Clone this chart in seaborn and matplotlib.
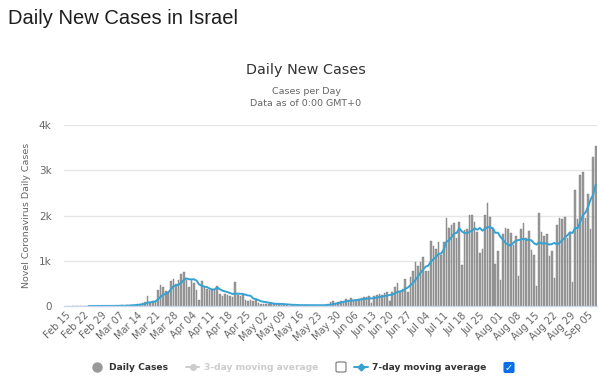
import numpy as np
import pandas as pd
import matplotlib
matplotlib.use("Agg")
import matplotlib.pyplot as plt
import seaborn as sns
from matplotlib.lines import Line2D
from matplotlib.patches import FancyBboxPatch

sns.set_style("white")
plt.rcParams['font.family'] = ['DejaVu Sans']

# daily new cases, Feb 15 - Sep 08 2020
feb_cases = [np.nan, np.nan, np.nan, 0, 0, 0, 1, 0, 0, 0, 0, 1, 0, 2, 3]
mar_cases = [2, 2, 3, 5, 2, 4, 4, 12, 8, 17, 22, 33, 29, 40,
             50, 70, 90, 230, 60, 100, 110, 361, 472, 420, 330, 310, 560, 597, 494, 582, 715]
apr_cases = [744, 582, 420, 580, 516, 346, 140, 545, 435, 383, 346, 360, 360, 442, 272,
             214, 272, 236, 214, 199, 523, 236, 214, 236, 125, 103, 140, 110, 140, 66]
may_cases = [52, 37, 52, 50, 60, 45, 40, 50, 25, 20, 20, 10, 25, 30, 20, 10,
             20, 15, 10, 25, 20, 15, 10, 20, 15, 25, 40, 80, 116, 60, 95]
jun_cases = [120, 110, 150, 130, 170, 100, 140, 160, 175, 200, 190, 230, 65, 210, 240,
             270, 250, 290, 300, 118, 302, 413, 500, 339, 376, 597, 317, 648, 781, 980]
jul_cases = [892, 965, 1076, 766, 774, 1444, 1326, 1253, 1422, 1127, 1407, 1938, 1717, 1790,
             1827, 1496, 1864, 906, 1680, 1702, 2004, 2004, 1864, 1643, 1179, 1253, 2004,
             2270, 1960, 1717, 928]
aug_cases = [1223, 582, 1584, 1732, 1702, 1606, 1347, 1548, 670, 1694, 1841, 1496, 1665,
             1245, 1120, 442, 2049, 1643, 1555, 1584, 1112, 1208, 612, 1790, 1952, 1923,
             1960, 1496, 1643, 538, 2564]
sep_cases = [1916, 2896, 2970, 1938, 2476, 1702, 3294, 3545]

tick_labels = ["Feb 15", "Feb 22", "Feb 29", "Mar 07", "Mar 14", "Mar 21", "Mar 28",
               "Apr 04", "Apr 11", "Apr 18", "Apr 25", "May 02", "May 09", "May 16",
               "May 23", "May 30", "Jun 06", "Jun 13", "Jun 20", "Jun 27", "Jul 04",
               "Jul 11", "Jul 18", "Jul 25", "Aug 01", "Aug 08", "Aug 15", "Aug 22",
               "Aug 29", "Sep 05"]
y_ticks = [0, 1000, 2000, 3000, 4000]
y_labels = ["0", "1k", "2k", "3k", "4k"]

cases = feb_cases + mar_cases + apr_cases + may_cases + jun_cases + jul_cases + aug_cases + sep_cases
df = pd.DataFrame({"day": np.arange(len(cases)), "cases": cases})
df["ma7"] = df["cases"].rolling(7).mean()

W, H = 600, 381
fig = plt.figure(figsize=(W / 100, H / 100), dpi=100)
ax = fig.add_axes([64 / W, 1 - 306 / H, 533 / W, 181 / H])

sns.barplot(data=df, x="day", y="cases", native_scale=True, width=0.62,
            color="#9b9b9b", edgecolor="#7d7d7d", linewidth=0.3, saturation=1,
            errorbar=None, ax=ax)
sns.lineplot(data=df, x="day", y="ma7", color="#35a2d3", linewidth=1.4, ax=ax)

ax.set_xlim(-0.5, len(cases) - 0.5)
ax.set_ylim(0, 4000)
ax.set_xticks(np.arange(len(tick_labels)) * 7)
ax.set_xticklabels(tick_labels)
ax.set_yticks(y_ticks)
ax.set_yticklabels(y_labels)
ax.tick_params(axis="x", length=0, pad=3, labelsize=7, labelcolor="#666666")
ax.tick_params(axis="y", length=0, pad=9, labelsize=7.5, labelcolor="#666666")
plt.setp(ax.get_xticklabels(), rotation=45, ha="right", va="top", rotation_mode="anchor")
ax.set_xlabel("")
ax.set_ylabel("")
ax.yaxis.grid(True, color="#e6e6e6", linewidth=1)
ax.set_axisbelow(True)
for s in ["top", "right", "left"]:
    ax.spines[s].set_visible(False)
ax.spines["bottom"].set_color("#ccd6eb")
ax.spines["bottom"].set_linewidth(1)

fig.text(27 / W, 1 - 215 / H, "Novel Coronavirus Daily Cases", rotation=90,
         ha="center", va="center", fontsize=6.8, color="#666666")

# titles
fig.text(8 / W, 1 - 19 / H, "Daily New Cases in Israel", family="Liberation Sans",
         fontsize=14.5, color="#1e1e1e", ha="left", va="center")
fig.text(306 / W, 1 - 70 / H, "Daily New Cases", fontsize=10.4, color="#333333",
         ha="center", va="center")
fig.text(306 / W, 1 - 91 / H, "Cases per Day", fontsize=6.8, color="#666666",
         ha="center", va="center")
fig.text(306 / W, 1 - 104 / H, "Data as of 0:00 GMT+0", fontsize=6.8, color="#666666",
         ha="center", va="center")

# legend
ly = 1 - 367 / H
tf = fig.transFigure
fig.add_artist(Line2D([97 / W], [ly], marker="o", markersize=6.5, color="#999999",
                      linestyle="none", transform=tf))
fig.text(109 / W, ly, "Daily Cases", fontsize=6.6, fontweight="bold", color="#333333",
         ha="left", va="center")
fig.add_artist(Line2D([186 / W, 199 / W], [ly, ly], marker="D", markevery=[0], markersize=0,
                      color="#cccccc", linewidth=1.4, transform=tf))
fig.add_artist(Line2D([192.5 / W], [ly], marker="o", markersize=4, color="#cccccc",
                      linestyle="none", transform=tf))
fig.text(204 / W, ly, "3-day moving average", fontsize=6.6, fontweight="bold",
         color="#cccccc", ha="left", va="center")
fig.add_artist(FancyBboxPatch((336 / W, ly - 5 / H), 10 / W, 10 / H,
                              boxstyle="round,pad=0,rounding_size=0.003",
                              facecolor="white", edgecolor="#767676", linewidth=0.8,
                              transform=tf))
fig.add_artist(Line2D([354 / W, 368 / W], [ly, ly], color="#35a2d3", linewidth=1.4,
                      transform=tf))
fig.add_artist(Line2D([361 / W], [ly], marker="D", markersize=3.5, color="#35a2d3",
                      linestyle="none", transform=tf))
fig.text(372 / W, ly, "7-day moving average", fontsize=6.6, fontweight="bold",
         color="#333333", ha="left", va="center")
fig.add_artist(FancyBboxPatch((504 / W, ly - 5.5 / H), 10 / W, 10 / H,
                              boxstyle="round,pad=0,rounding_size=0.003",
                              facecolor="#0a6ee8", edgecolor="#0a6ee8", linewidth=0.8,
                              transform=tf))
fig.text(509 / W, ly - 0.5 / H, "\u2713", fontsize=7, fontweight="bold", color="white",
         ha="center", va="center")

fig.savefig("out.png", dpi=100, facecolor="white")
